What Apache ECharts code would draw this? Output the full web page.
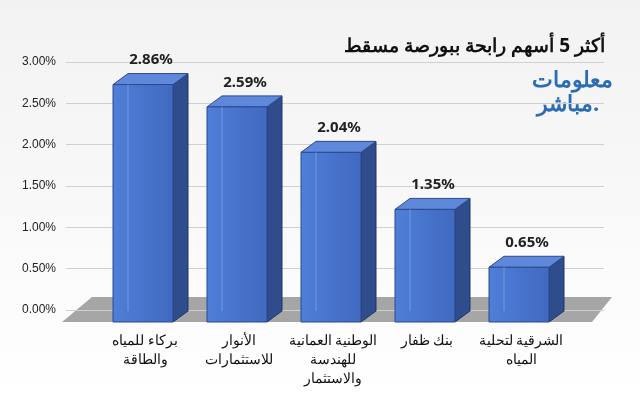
<!DOCTYPE html>
<html><head><meta charset="utf-8">
<script src="https://cdn.jsdelivr.net/npm/echarts@6/dist/echarts.min.js"></script>
<style>html,body{margin:0;padding:0}#chart{width:640px;height:400px}</style>
</head><body><div id="chart"></div>
<script>
var categories = ['بركاء للمياه\nوالطاقة', 'الأنوار\nللاستثمارات', 'الوطنية العمانية\nللهندسة\nوالاستثمار', 'بنك ظفار', 'الشرقية لتحلية\nالمياه'];
var values = [2.86, 2.59, 2.04, 1.35, 0.65];

var chart = echarts.init(document.getElementById('chart'));
var HALF = 30, DX = 15, DY = 11;

var option = {
    backgroundColor: new echarts.graphic.LinearGradient(0, 0, 0, 1, [
        {offset: 0, color: '#f2f2f2'}, {offset: 1, color: '#ffffff'}
    ]),
    title: {
        text: 'أكثر 5 أسهم رابحة ببورصة مسقط',
        right: 30, top: 32,
        textStyle: {fontFamily: 'Noto Sans', fontSize: 19, fontWeight: 'bold', color: '#111'}
    },
    graphic: [
        {type: 'polygon', z: 0, shape: {points: [[92, 297], [612, 297], [592, 322], [62, 322]]},
         style: {fill: '#a6a6a6'}},
        {type: 'text', left: 532, top: 70, style: {text: 'معلومات', fill: '#2a6db5',
         font: 'bold 22px "Noto Sans"'}},
        {type: 'text', left: 537, top: 94, style: {text: 'مباشر.', fill: '#2a6db5',
         font: 'bold 22px "Noto Sans"'}}
    ],
    grid: [
        {left: 98, right: 72, top: 62, bottom: 90},
        {left: 66, right: 36, top: 62, bottom: 90}
    ],
    xAxis: [{
        type: 'category', data: categories, gridIndex: 0,
        axisLine: {show: false}, axisTick: {show: false},
        axisLabel: {margin: 22, interval: 0, color: '#111', fontSize: 14, fontFamily: 'Noto Sans', lineHeight: 19}
    }, {
        type: 'value', gridIndex: 1, min: 0, max: 1, show: false
    }],
    yAxis: [{
        type: 'value', gridIndex: 0, min: 0, max: 3, interval: 0.5, show: false
    }, {
        type: 'value', gridIndex: 1, min: 0, max: 3, interval: 0.5,
        axisLine: {show: false}, axisTick: {show: false},
        axisLabel: {formatter: function (v) { return v.toFixed(2) + '%'; }, color: '#222', fontSize: 12, margin: 10},
        splitLine: {lineStyle: {color: '#d0d0d0'}}
    }],
    series: [{
        type: 'custom', xAxisIndex: 0, yAxisIndex: 0,
        data: values.map(function (v, i) { return [i, v]; }),
        renderItem: function (params, api) {
            var top = api.coord([api.value(0), api.value(1)]);
            var base = api.coord([api.value(0), 0]);
            var c = top[0] - 2, yt = top[1], yb = base[1] + 12;
            return {type: 'group', children: [
                {type: 'polygon', shape: {points: [[c + HALF, yt + DY], [c + HALF + DX, yt], [c + HALF + DX, yb - DY], [c + HALF, yb]]},
                 style: {fill: '#2f4d8c', stroke: '#1f3566', lineWidth: 1}},
                {type: 'polygon', shape: {points: [[c - HALF, yt + DY], [c + HALF, yt + DY], [c + HALF + DX, yt], [c - HALF + DX, yt]]},
                 style: {fill: '#5f88da', stroke: '#2b4a8f', lineWidth: 1}},
                {type: 'rect', shape: {x: c - HALF, y: yt + DY, width: HALF * 2, height: yb - yt - DY},
                 style: {fill: new echarts.graphic.LinearGradient(0, 0, 1, 0, [
                     {offset: 0, color: '#4f7fd8'}, {offset: 1, color: '#4169c0'}]), stroke: '#2b4a8f', lineWidth: 1}},
                {type: 'polyline', shape: {points: [[c - HALF + DX, yb - DY], [c - HALF + DX, yt + DY]]},
                 style: {stroke: '#7399e0', lineWidth: 1, fill: null}},
                {type: 'text', style: {text: api.value(1).toFixed(2) + '%', x: c + 8, y: yt - 6,
                 align: 'center', verticalAlign: 'bottom', fill: '#222', font: 'bold 15px "Noto Sans"'}}
            ]};
        }
    }]
};
chart.setOption(option);
</script></body></html>
